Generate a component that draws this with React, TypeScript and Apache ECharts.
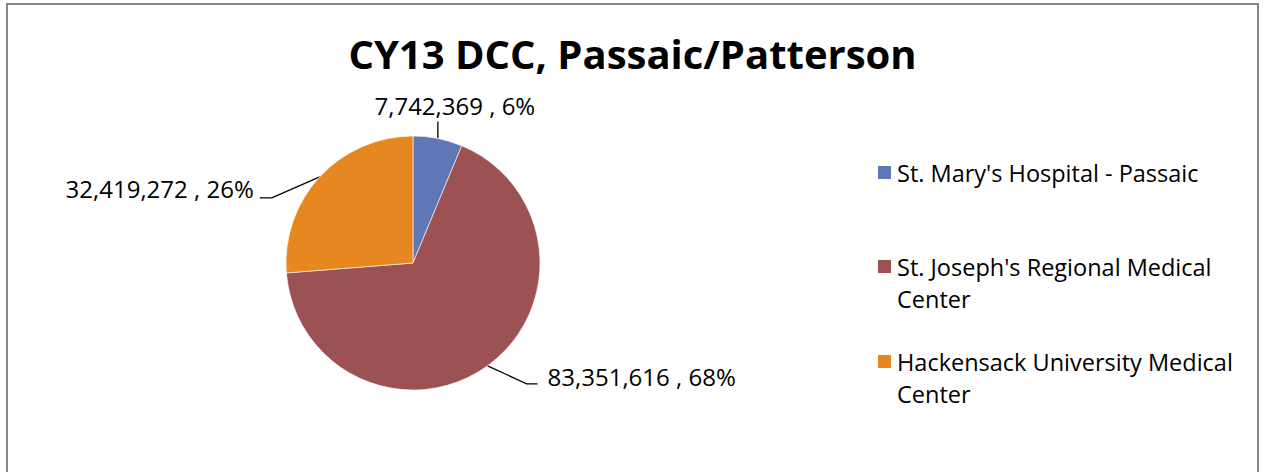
import React, { useEffect, useRef } from "react";
import * as echarts from "echarts";

const chartTitle = "CY13 DCC, Passaic/Patterson";
const hospitals = [
  "St. Mary's Hospital - Passaic",
  "St. Joseph's Regional Medical Center",
  "Hackensack University Medical Center",
];
const dccValues = [7742369, 83351616, 32419272];
const sliceColors = ["#5F77B5", "#9C5152", "#E6871F"];

const FONT = "'Open Sans', 'Noto Sans', sans-serif";

export default function App() {
  const ref = useRef<HTMLDivElement>(null);

  useEffect(() => {
    if (!ref.current) return;
    const chart = echarts.init(ref.current, null, { renderer: "svg" });

    const legendTops = [156.5, 218.5, 313.5];
    // two-line names: a blank first line keeps the marker level with the first text line
    const wrapName = (n: string) =>
      / Center$/.test(n) ? " \n" + n.replace(/ (Center)$/, "\n$1") : n;

    const option: any = {
      animation: false,
      backgroundColor: "#ffffff",
      textStyle: { fontFamily: FONT },
      title: {
        text: chartTitle,
        left: "center",
        top: 28.5,
        textStyle: { fontFamily: FONT, fontSize: 40, fontWeight: "bold", color: "#000" },
      },
      graphic: [
        {
          type: "rect",
          z: -10,
          shape: { x: 7, y: 4, width: 1251, height: 500 },
          style: { fill: "none", stroke: "#878787", lineWidth: 2 },
        },
      ],
      legend: hospitals.map((name, i) => ({
        orient: "vertical",
        left: 876,
        top: legendTops[i],
        padding: 0,
        itemWidth: 15,
        itemHeight: 15,
        icon: "rect",
        selectedMode: false,
        data: [name],
        formatter: wrapName,
        textStyle: {
          fontFamily: FONT,
          fontSize: 23.5,
          lineHeight: 32,
          color: "#000",
        },
      })),
      series: [
        {
          type: "pie",
          center: [413, 263],
          radius: 127,
          startAngle: 90,
          clockwise: true,
          percentPrecision: 0,
          avoidLabelOverlap: false,
          itemStyle: { borderColor: "#ffffff", borderWidth: 0.6 },
          label: {
            show: true,
            position: "outside",
            alignTo: "none",
            fontFamily: FONT,
            fontSize: 24,
            color: "#000",
            formatter: (p: any) =>
              `${Number(p.value).toLocaleString("en-US")} , ${p.percent}%`,
          },
          labelLine: {
            show: true,
            length: 20,
            length2: 12,
            lineStyle: { color: "#000", width: 1.3 },
          },
          labelLayout: (p: any) => {
            const pts = p.labelLinePoints;
            if (!pts) return {};
            const a = pts[0];
            if (p.dataIndex === 0) {
              const t = [a[0], a[1] - 17];
              return {
                x: a[0] + 17,
                y: a[1] - 33,
                align: "center",
                verticalAlign: "middle",
                labelLinePoints: [a, t, t],
              };
            }
            if (p.dataIndex === 1) {
              const b = [a[0] + 39, a[1] + 18];
              const c = [b[0] + 11, b[1]];
              return {
                x: c[0] + 10,
                y: c[1] - 7,
                align: "left",
                verticalAlign: "middle",
                labelLinePoints: [a, b, c],
              };
            }
            const b = [a[0] - 48, a[1] + 21];
            const c = [b[0] - 12, b[1]];
            return {
              x: c[0] - 6,
              y: c[1] - 9,
              align: "right",
              verticalAlign: "middle",
              labelLinePoints: [a, b, c],
            };
          },
          data: hospitals.map((name, i) => ({
            name,
            value: dccValues[i],
            itemStyle: { color: sliceColors[i] },
          })),
        },
      ],
    };

    chart.setOption(option);
    return () => chart.dispose();
  }, []);

  return (
    <div
      ref={ref}
      style={{ position: "fixed", left: 0, top: 0, width: 1265, height: 472 }}
    />
  );
}
